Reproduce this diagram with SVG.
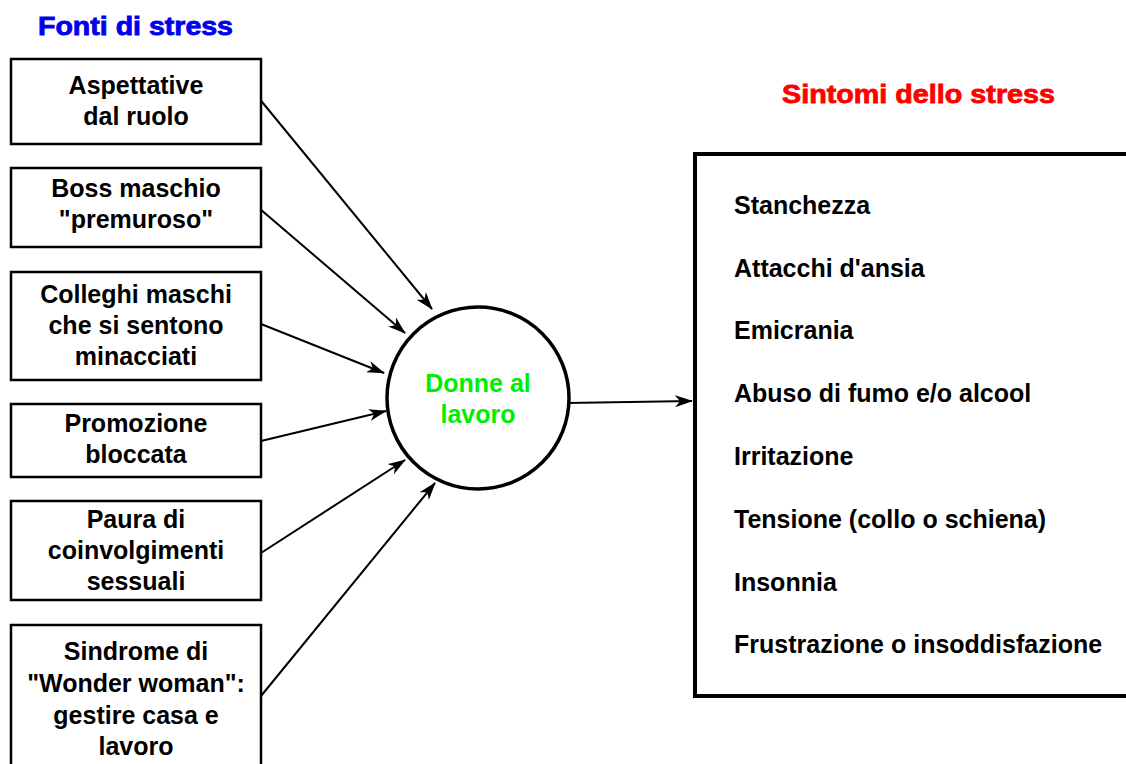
<svg xmlns="http://www.w3.org/2000/svg" width="1126" height="764" viewBox="0 0 1126 764">
<style>
text{font-family:"Liberation Sans",Arial,sans-serif;font-weight:bold;font-size:25px}
.c{text-anchor:middle;fill:#000}
.t{font-size:25px;stroke-width:0.8}
.box{fill:#fff;stroke:#000;stroke-width:2.5}
.conn line{stroke:#000;stroke-width:2;marker-end:url(#ah)}
</style>
<defs>
<marker id="ah" viewBox="0 0 18 12" refX="17" refY="6" markerWidth="18" markerHeight="12" markerUnits="userSpaceOnUse" orient="auto">
<path d="M0,0 L18,6 L0,12 L5,6 Z" fill="#000"/>
</marker>
</defs>
<rect width="1126" height="764" fill="#fff"/>
<text x="38" y="35" class="t" style="fill:#0000ee;stroke:#0000ee" textLength="195" lengthAdjust="spacingAndGlyphs">Fonti di stress</text>
<text x="782" y="103" class="t" style="fill:#ff0000;stroke:#ff0000" textLength="273" lengthAdjust="spacingAndGlyphs">Sintomi dello stress</text>
<g class="conn" id="connectors">
<line x1="258" y1="97" x2="432" y2="309"/>
<line x1="260" y1="209" x2="405" y2="333"/>
<line x1="261" y1="324" x2="384" y2="373"/>
<line x1="261" y1="441" x2="386" y2="411"/>
<line x1="261" y1="553" x2="405" y2="460"/>
<line x1="261" y1="696" x2="435" y2="483"/>
<line x1="567" y1="403" x2="692" y2="401"/>
</g>
<g id="n1"><rect class="box" x="11" y="59" width="250" height="85"/><text class="c" x="136" y="94">Aspettative</text><text class="c" x="136" y="125">dal ruolo</text></g>
<g id="n2"><rect class="box" x="11" y="168" width="250" height="79"/><text class="c" x="136" y="197">Boss maschio</text><text class="c" x="136" y="228">"premuroso"</text></g>
<g id="n3"><rect class="box" x="11" y="272" width="250" height="108"/><text class="c" x="136" y="303">Colleghi maschi</text><text class="c" x="136" y="334">che si sentono</text><text class="c" x="136" y="365">minacciati</text></g>
<g id="n4"><rect class="box" x="11" y="404" width="250" height="73"/><text class="c" x="136" y="432">Promozione</text><text class="c" x="136" y="463">bloccata</text></g>
<g id="n5"><rect class="box" x="11" y="501" width="250" height="99"/><text class="c" x="136" y="528">Paura di</text><text class="c" x="136" y="559">coinvolgimenti</text><text class="c" x="136" y="590">sessuali</text></g>
<g id="n6"><rect class="box" x="11" y="625" width="250" height="150"/><text class="c" x="136" y="660">Sindrome di</text><text class="c" x="136" y="692">"Wonder woman":</text><text class="c" x="136" y="724">gestire casa e</text><text class="c" x="136" y="755">lavoro</text></g>
<g id="center"><circle cx="478" cy="398" r="91" fill="#fff" stroke="#000" stroke-width="3.5"/><text class="c" x="478" y="392" style="fill:#00ee00">Donne al</text><text class="c" x="478" y="423" style="fill:#00ee00">lavoro</text></g>
<g id="symptoms">
<rect x="695" y="154" width="460" height="542" fill="#fff" stroke="#000" stroke-width="4"/>
<text x="734" y="214">Stanchezza</text>
<text x="734" y="277">Attacchi d'ansia</text>
<text x="734" y="339">Emicrania</text>
<text x="734" y="402">Abuso di fumo e/o alcool</text>
<text x="734" y="465">Irritazione</text>
<text x="734" y="528">Tensione (collo o schiena)</text>
<text x="734" y="591">Insonnia</text>
<text x="734" y="653">Frustrazione o insoddisfazione</text>
</g>
</svg>
